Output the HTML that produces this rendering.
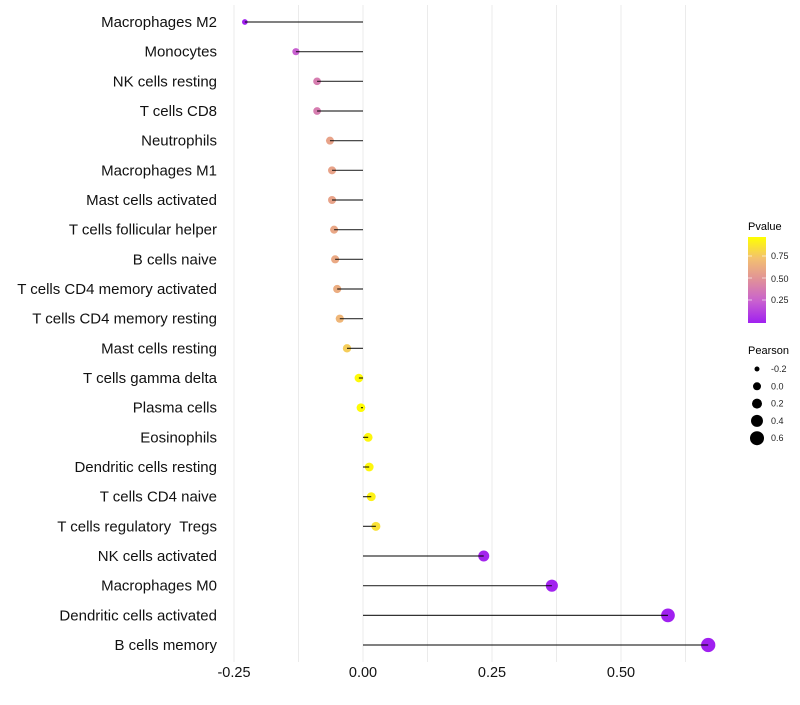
<!DOCTYPE html>
<html><head><meta charset="utf-8"><style>
body{margin:0;background:#fff;font-family:"Liberation Sans",sans-serif}
svg text{font-family:"Liberation Sans",sans-serif;white-space:pre}
</style></head><body>
<svg width="800" height="700">
<g id="grid"></g>
<g id="ylab"></g>
<g id="xlab"></g>
<g id="marks"></g>
<g>
<defs><linearGradient id="cg" x1="0" y1="1" x2="0" y2="0">
<stop offset="0" stop-color="#a020f0"/><stop offset="0.25" stop-color="#c860d0"/><stop offset="0.5" stop-color="#e0909a"/><stop offset="0.75" stop-color="#f3c070"/><stop offset="1" stop-color="#ffff00"/></linearGradient></defs>
<text x="748" y="230" font-size="11">Pvalue</text>
<rect x="748" y="237" width="18" height="86" fill="url(#cg)"/>
<g stroke="#fff" stroke-opacity="0.6"><line x1="748" x2="752" y1="256" y2="256"/><line x1="762" x2="766" y1="256" y2="256"/><line x1="748" x2="752" y1="278" y2="278"/><line x1="762" x2="766" y1="278" y2="278"/><line x1="748" x2="752" y1="300" y2="300"/><line x1="762" x2="766" y1="300" y2="300"/></g>
<g font-size="9" fill="#222"><text x="771" y="259">0.75</text><text x="771" y="282">0.50</text><text x="771" y="303">0.25</text></g>
</g>
<g>
<text x="748" y="354" font-size="11">Pearson</text>
<g id="sizeleg"></g>
</g>
</svg>
<script>
const cells=["Macrophages M2","Monocytes","NK cells resting","T cells CD8","Neutrophils","Macrophages M1","Mast cells activated","T cells follicular helper","B cells naive","T cells CD4 memory activated","T cells CD4 memory resting","Mast cells resting","T cells gamma delta","Plasma cells","Eosinophils","Dendritic cells resting","T cells CD4 naive","T cells regulatory  Tregs","NK cells activated","Macrophages M0","Dendritic cells activated","B cells memory"];
const pearson=[-0.229,-0.13,-0.089,-0.089,-0.064,-0.06,-0.06,-0.056,-0.054,-0.05,-0.045,-0.031,-0.008,-0.004,0.01,0.012,0.016,0.025,0.234,0.366,0.591,0.669];
const pvalue=[0.0,0.25,0.4,0.4,0.6,0.6,0.6,0.62,0.63,0.65,0.7,0.8,0.98,0.99,0.97,0.97,0.95,0.88,0.02,0.01,0.0,0.0];
const xTicks=[-0.25,0,0.25,0.5];
const xTickLabels=["-0.25","0.00","0.25","0.50"];
const sizeLegend=[-0.2,0,0.2,0.4,0.6];
const sizeLegendLabels=["-0.2","0.0","0.2","0.4","0.6"];
const NS="http://www.w3.org/2000/svg";
const X=v=>363+516*v, Y=i=>22+i*29.667;
const R=v=>Math.sqrt(Math.max(1,19+48*v));
const stops=[[0,[160,32,240]],[0.25,[200,96,208]],[0.5,[224,144,154]],[0.75,[243,192,112]],[1,[255,255,0]]];
function col(p){for(let i=0;i<stops.length-1;i++){const[a,ca]=stops[i],[b,cb]=stops[i+1];if(p<=b){const t=(p-a)/(b-a);return`rgb(${ca.map((c,k)=>Math.round(c+(cb[k]-c)*t)).join(",")})`;}}return"rgb(255,255,0)";}
function mk(t,a,p){const e=document.createElementNS(NS,t);for(const k in a)e.setAttribute(k,a[k]);p.appendChild(e);return e;}
const grid=document.getElementById("grid"),ylab=document.getElementById("ylab"),xlab=document.getElementById("xlab"),marks=document.getElementById("marks");
for(let v=-0.25;v<=0.65;v+=0.125){const g=mk("line",{x1:X(v),x2:X(v),y1:5,y2:662,stroke:"#ebebeb","stroke-width":1},grid);}
xTicks.forEach((v,i)=>{const t=mk("text",{x:X(v),y:677,"font-size":14.5,"text-anchor":"middle",fill:"#111"},xlab);t.textContent=xTickLabels[i];

});
cells.forEach((c,i)=>{const t=mk("text",{x:217,y:Y(i)+5,"font-size":15,"text-anchor":"end",fill:"#111"},ylab);t.textContent=c;


const p=mk("circle",{cx:X(pearson[i]),cy:Y(i),r:R(pearson[i]),fill:col(pvalue[i])},marks);


const l=mk("line",{x1:X(0),x2:X(pearson[i]),y1:Y(i),y2:Y(i),stroke:"#000","stroke-width":1.2,"stroke-opacity":0.8},marks);

});
const sl=document.getElementById("sizeleg");
sizeLegend.forEach((v,i)=>{const y=369+i*17.3;const c=mk("circle",{cx:757,cy:y,r:[2.5,4,5,6,7][i],fill:"#000"},sl);


const t=mk("text",{x:771,y:y+3,"font-size":9,fill:"#222"},sl);t.textContent=sizeLegendLabels[i];

});
</script>
</body></html>
